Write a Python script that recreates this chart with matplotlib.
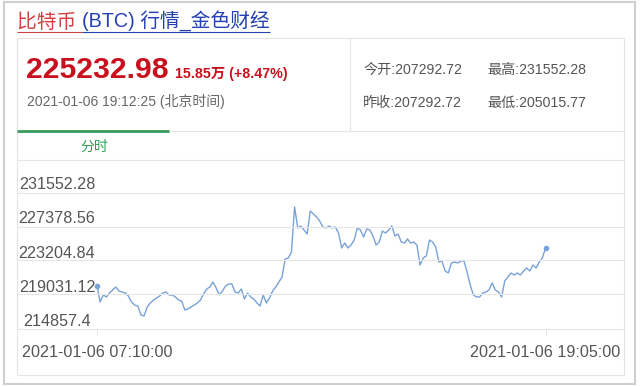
import matplotlib
matplotlib.use('Agg')
import matplotlib.pyplot as plt
from matplotlib.lines import Line2D
from matplotlib.patches import Rectangle

FONTS = ['Liberation Sans', 'Noto Sans CJK SC', 'DejaVu Sans']
plt.rcParams['font.family'] = FONTS

# ---------------- data ----------------
title_keyword = '比特币 '
title_rest = '(BTC) 行情_金色财经'
last_price = '225232.98'
change_text = '15.85万 (+8.47%)'
timestamp = '2021-01-06 19:12:25 (北京时间)'
stats_row1 = ['今开:207292.72', '最高:231552.28']
stats_row2 = ['昨收:207292.72', '最低:205015.77']
tab_label = '分时'

y_ticks = [231552.28, 227378.56, 223204.84, 219031.12, 214857.4]
y_tick_labels = ['231552.28', '227378.56', '223204.84', '219031.12', '214857.4']
x_tick_index = [0, 143]
x_tick_labels = ['2021-01-06 07:10:00', '2021-01-06 19:05:00']

# 5-minute prices, 07:10 .. 19:05
prices = [
    219031, 217051, 217904, 217660, 218148, 218513, 218879, 218391, 218270, 218148,
    217782, 217051, 216685, 216564, 215467, 215345, 216442, 216929, 217295, 217538,
    217782, 218148, 218270, 217904, 217904, 217660, 217295, 217173, 216076, 216198,
    216442, 216685, 216929, 217295, 218026, 218635, 218879, 219488, 218757, 217904,
    218391, 219001, 219244, 219244, 218270, 218148, 218635, 217417, 218148, 217660,
    217417, 216929, 216564, 217904, 216929, 217538, 218391, 218879, 219488, 220098,
    222291, 222413, 223144, 228628, 226069, 226312, 225825, 225337, 228140, 227775,
    227409, 226922, 226190, 226069, 226312, 226069, 226190, 225459, 223631, 224241,
    223631, 223997, 224606, 226069, 225825, 224972, 225947, 225825, 225094, 223997,
    224363, 225703, 225459, 225825, 226312, 225094, 225337, 224363, 224241, 224728,
    224241, 224363, 223997, 221560, 222413, 222657, 224606, 224363, 223753, 221925,
    222047, 220829, 220585, 221804, 221925, 221804, 222047, 222047, 220707, 219122,
    217904, 217660, 217660, 218148, 218270, 218513, 219366, 218513, 218270, 217660,
    219610, 220098, 220585, 220341, 220585, 220341, 220829, 221194, 220829, 221560,
    221194, 221925, 222413, 223631,
]

# ---------------- layout ----------------
W, H = 640, 386
fig = plt.figure(figsize=(W / 100, H / 100), dpi=100, facecolor='white')


def fx(x):
    return x / W


def fy(y):
    return 1 - y / H


def hline(x0, x1, y, color='#e6e6e6', lw=0.8):
    fig.add_artist(Line2D([fx(x0), fx(x1)], [fy(y), fy(y)], transform=fig.transFigure,
                          color=color, lw=lw, solid_capstyle='butt'))


def vline(x, y0, y1, color='#e6e6e6', lw=0.8):
    fig.add_artist(Line2D([fx(x), fx(x)], [fy(y0), fy(y1)], transform=fig.transFigure,
                          color=color, lw=lw, solid_capstyle='butt'))


# outer frame
fig.add_artist(Rectangle((fx(4), fy(384)), fx(635) - fx(4), fy(2) - fy(384),
                         transform=fig.transFigure, fill=False, ec='#cfcfcf', lw=1.5))
# inner panel
fig.add_artist(Rectangle((fx(17), fy(375)), fx(624) - fx(17), fy(38) - fy(375),
                         transform=fig.transFigure, fill=False, ec='#e4e4e4', lw=0.8))
vline(350, 38, 131)
hline(17, 624, 131)
hline(17, 169, 131, color='#3a9a5c', lw=2.0)
for gy in [160, 193, 227, 260, 294, 329]:
    hline(17, 624, gy)

# title with two colours
renderer = fig.canvas.get_renderer()
t1 = fig.text(fx(17), fy(28), title_keyword, color='#d04040', fontsize=14.2, va='baseline')
bb1 = t1.get_window_extent(renderer)
t2 = fig.text(bb1.x1 / W, fy(28), title_rest, color='#2440b3', fontsize=14.2, va='baseline')
bb2 = t2.get_window_extent(renderer)
hline(17, bb1.x1, 31.5, color='#d04040', lw=0.8)
hline(bb1.x1, bb2.x1, 31.5, color='#2440b3', lw=0.8)

# price block
fig.text(fx(26), fy(78), last_price, color='#c8101e', fontsize=21.7, fontweight='bold',
         va='baseline')
fig.text(fx(175), fy(78), change_text, color='#c8101e', fontsize=10.3, fontweight='bold',
         va='baseline')
fig.text(fx(27), fy(106), timestamp, color='#666666', fontsize=10, va='baseline')

for (s, x) in zip(stats_row1, [363, 487]):
    fig.text(fx(x), fy(74), s, color='#555555', fontsize=10.2, va='baseline')
for (s, x) in zip(stats_row2, [363, 487]):
    fig.text(fx(x), fy(107), s, color='#555555', fontsize=10.2, va='baseline')

fig.text(fx(94), fy(146.5), tab_label, color='#2e9e55', fontsize=10, ha='center', va='center')

# ---------------- chart ----------------
ax_left, ax_right, ax_top, ax_bottom = 17, 624, 160, 329
ax = fig.add_axes([fx(ax_left), fy(ax_bottom), (ax_right - ax_left) / W,
                   (ax_bottom - ax_top) / H])
ax.set_facecolor('none')

# pixel anchors for scale
x0_px, x1_px = 97, 545.5
per_x = (x1_px - x0_px) / (x_tick_index[1] - x_tick_index[0])
ax.set_xlim(x_tick_index[0] - (x0_px - ax_left) / per_x,
            x_tick_index[1] + (ax_right - x1_px) / per_x)
ytop_px, ybot_px = 183, 320
per_y = (y_ticks[0] - y_ticks[-1]) / (ybot_px - ytop_px)
ax.set_ylim(y_ticks[-1] - (ax_bottom - ybot_px) * per_y,
            y_ticks[0] + (ytop_px - ax_top) * per_y)

xs = list(range(len(prices)))
line_color = '#78a2d8'
ax.plot(xs, prices, color=line_color, lw=1.0)
ax.plot([xs[0], xs[-1]], [prices[0], prices[-1]], 'o', color=line_color, ms=3, mec=line_color)

for s in ax.spines.values():
    s.set_visible(False)

ax.set_yticks(y_ticks, y_tick_labels)
ax.tick_params(axis='y', length=0, pad=-40 * 0.72, labelsize=11.6, labelcolor='#555555')
for lab in ax.get_yticklabels():
    lab.set_ha('center')

ax.set_xticks(x_tick_index, x_tick_labels)
ax.tick_params(axis='x', length=4, width=0.6, color='#dddddd', pad=7.5, labelsize=11.6,
               labelcolor='#555555')

fig.savefig('out.png', dpi=100, facecolor='white')
